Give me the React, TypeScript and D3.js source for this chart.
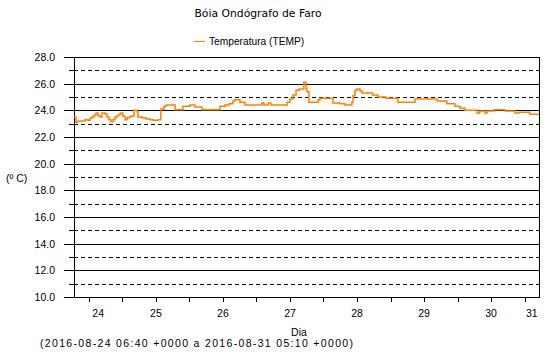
import React from "react";
import * as d3 from "d3";

const TITLE = "Bóia Ondógrafo de Faro";
const SERIES_NAME = "Temperatura (TEMP)";
const Y_LABEL = "(º C)";
const X_LABEL = "Dia";
const SUBTITLE = "(2016-08-24 06:40 +0000 a 2016-08-31 05:10 +0000)";

const START = Date.UTC(2016, 7, 24, 6, 40);
const END = Date.UTC(2016, 7, 31, 5, 10);

// hours since start
const hours = [
  0, 0.7, 1.4, 2.9, 3.9, 5.0, 5.7, 6.4, 7.2, 7.9, 8.6, 9.3, 10.0, 11.1, 11.8, 12.5,
  13.2, 14.0, 14.7, 15.4, 16.1, 16.8, 17.5, 18.3, 19.0, 20.0, 21.1, 21.5, 22.6, 22.9,
  24.3, 25.8, 27.2, 28.3, 30.1, 31.1, 32.2, 33.0, 36.2, 39.0, 41.5, 43.3, 45.8, 52.3,
  54.1, 55.5, 56.9, 57.6, 59.4, 61.2, 67.3, 68.0, 69.5, 70.5, 76.3, 77.3, 78.4, 79.5,
  80.6, 82.3, 83.1, 83.4, 84.1, 87.4, 88.1, 92.7, 95.2, 97.0, 99.5, 99.9, 100.6, 101.3,
  102.4, 103.1, 107.0, 108.8, 111.7, 116.0, 122.1, 130.0, 133.5, 136.4, 138.2, 140.0,
  144.3, 145.3, 147.1, 147.9, 150.4, 154.3, 157.9, 159.3, 163.2, 166.5,
];
const temps = [
  23.5, 23.1, 23.2, 23.2, 23.3, 23.25, 23.4, 23.5, 23.65, 23.8, 23.6, 23.5, 23.8, 23.75, 23.5, 23.3,
  23.15, 23.3, 23.5, 23.6, 23.7, 23.8, 23.55, 23.3, 23.45, 23.55, 23.6, 24.0, 23.9, 23.5,
  23.45, 23.35, 23.3, 23.25, 23.3, 24.1, 24.3, 24.4, 24.05, 24.3, 24.4, 24.25, 24.05, 24.3,
  24.4, 24.5, 24.7, 24.8, 24.6, 24.4, 24.55, 24.4, 24.55, 24.4, 24.6, 24.85, 25.15, 25.5,
  25.6, 26.1, 25.6, 25.4, 24.6, 24.8, 24.9, 24.55, 24.5, 24.4, 24.6, 25.1, 25.5, 25.6,
  25.45, 25.3, 25.15, 25.0, 24.9, 24.6, 24.85, 24.7, 24.5, 24.3, 24.15, 24.0,
  23.8, 23.95, 23.8, 23.95, 24.05, 23.95, 23.8, 23.85, 23.7, 23.7,
];

const majorTicks = [10, 12, 14, 16, 18, 20, 22, 24, 26, 28];
const minorTicks = [11, 13, 15, 17, 19, 21, 23, 25, 27];
const dayLabels = ["24", "25", "26", "27", "28", "29", "30", "31"];

const W = 553;
const H = 361;
const L = 74;
const R = 539;
const T = 57;
const B = 297;

export default function App() {
  const x = d3.scaleUtc().domain([new Date(START), new Date(END)]).range([L, R]);
  const y = d3.scaleLinear().domain([10, 28]).range([B, T]);

  const data = hours.map((h, i) => ({ t: new Date(START + h * 3600e3), v: temps[i] }));
  const line = d3
    .line<{ t: Date; v: number }>()
    .x((d) => x(d.t))
    .y((d) => y(d.v))
    .curve(d3.curveStepAfter);

  const xTicks = d3.utcHour.every(12)!.range(new Date(START), new Date(END));
  const dayPos = dayLabels.map((lab) => {
    const day = +lab;
    const a = Math.max(START, Date.UTC(2016, 7, day));
    const b = Math.min(END, Date.UTC(2016, 7, day + 1));
    return { lab, cx: (x(new Date(a)) + x(new Date(b))) / 2 };
  });

  const font = "'Liberation Sans', Arial, sans-serif";
  const r = (v: number) => Math.round(v) + 0.5;

  return (
    <svg
      width={W}
      height={H}
      style={{ position: "absolute", left: 0, top: 0, background: "#fff" }}
      fontFamily={font}
    >
      <rect x={0} y={0} width={W} height={H} fill="#fff" />
      <text x={258} y={17} textAnchor="middle" fontSize={10.8} fontFamily="'DejaVu Sans', Verdana, sans-serif" fill="#000">
        {TITLE}
      </text>
      <line x1={194} x2={205} y1={41.5} y2={41.5} stroke="#ff8000" strokeWidth={1} />
      <text x={209} y={45} fontSize={10.2} fill="#000">
        {SERIES_NAME}
      </text>

      <g shapeRendering="crispEdges">
        {minorTicks.map((v) => (
          <g key={"mi" + v}>
            <line x1={69} x2={L} y1={r(y(v))} y2={r(y(v))} stroke="#000" />
            <line x1={L} x2={R} y1={r(y(v))} y2={r(y(v))} stroke="#000" strokeDasharray="4,3" />
          </g>
        ))}
        {majorTicks.map((v) => (
          <line key={"ma" + v} x1={64} x2={R} y1={r(y(v))} y2={r(y(v))} stroke="#000" />
        ))}
        <line x1={r(L)} x2={r(L)} y1={T} y2={B} stroke="#000" />
        <line x1={r(R)} x2={r(R)} y1={T} y2={B + 1} stroke="#000" />
        {xTicks.map((t, i) => (
          <line key={"xt" + i} x1={r(x(t))} x2={r(x(t))} y1={B} y2={B + 5} stroke="#000" />
        ))}
      </g>

      {majorTicks.map((v) => (
        <text key={"yl" + v} x={55} y={y(v) + 4} textAnchor="end" fontSize={10.5} fill="#000">
          {v.toFixed(1)}
        </text>
      ))}
      {dayPos.map((d) => (
        <text key={"dl" + d.lab} x={d.cx} y={317} textAnchor="middle" fontSize={10.5} fill="#000">
          {d.lab}
        </text>
      ))}

      <text x={6} y={182} fontSize={10.5} fill="#000">
        {Y_LABEL}
      </text>
      <text x={299} y={336} textAnchor="middle" fontSize={10.5} fill="#000">
        {X_LABEL}
      </text>
      <text x={40} y={347} fontSize={10.5} fill="#000" textLength={313} lengthAdjust="spacing">
        {SUBTITLE}
      </text>

      <path d={line(data) || ""} fill="none" stroke="#ff8000" strokeWidth={1.5} />
    </svg>
  );
}
